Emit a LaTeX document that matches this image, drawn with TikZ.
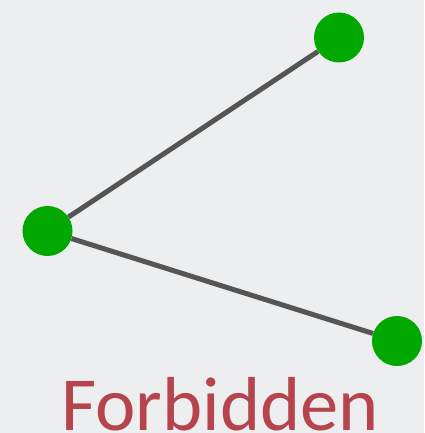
\documentclass[tikz,border=0pt]{standalone}
\usepackage{fontspec}
\setmainfont{Carlito}
\definecolor{bgcol}{HTML}{EDEEF0}
\definecolor{vertcol}{HTML}{00A800}
\definecolor{edgecol}{HTML}{555555}
\definecolor{labelcol}{HTML}{B5444C}
\begin{document}
\begin{tikzpicture}[x=1pt, y=-1pt,
  vertex/.style={circle, fill=vertcol, minimum size=50pt, inner sep=0pt},
  edge/.style={edgecol, line width=5pt}]
  % Background
  \fill[bgcol] (0,0) rectangle (424,433);
  \useasboundingbox (0,0) rectangle (424,433);
  % Vertices
  \node[vertex] (top) at (339,37.5) {};
  \node[vertex] (left) at (47.5,231) {};
  \node[vertex] (right) at (397,341) {};
  % Edges
  \draw[edge] (left) -- (top);
  \draw[edge] (left) -- (right);
  % Label
  \node[anchor=base, inner sep=0pt, text=labelcol, font=\fontsize{76.5}{84}\selectfont] (lbl) at (220,430.5) {Forbidden};
\end{tikzpicture}
\end{document}
